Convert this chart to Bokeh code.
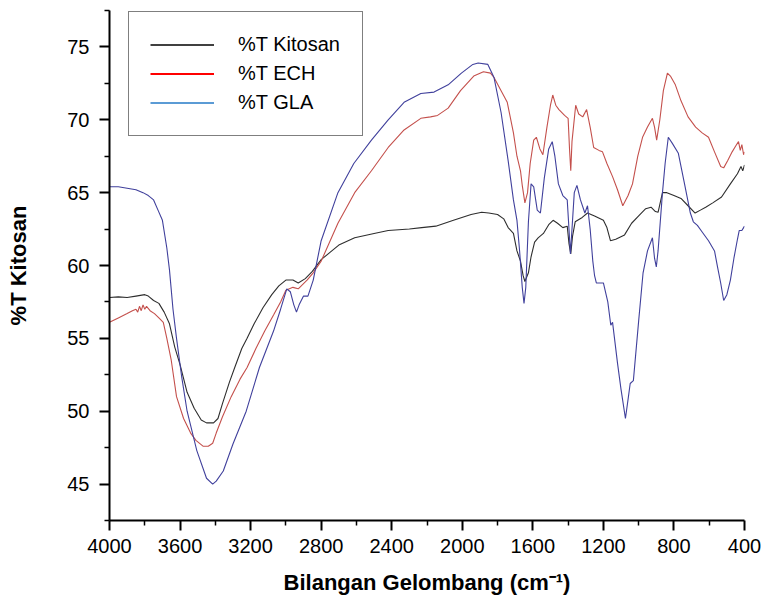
from bokeh.plotting import figure
from bokeh.models import Range1d, FixedTicker, Legend, LegendItem, ColumnDataSource
from bokeh.embed import file_html
from bokeh.resources import INLINE

# ---- data ----
kit_x = [4000, 3950, 3900, 3850, 3800, 3780, 3750, 3720, 3690, 3660, 3630, 3600, 3560, 3520, 3480,
         3450, 3410, 3385, 3360, 3320, 3290, 3250, 3220, 3180, 3130, 3080, 3040, 3000, 2960, 2930,
         2890, 2850, 2800, 2750, 2700, 2610, 2500, 2420, 2300, 2230, 2150, 2050, 1950, 1890, 1850,
         1800, 1765, 1740, 1710, 1690, 1670, 1655, 1645, 1625, 1610, 1590, 1570, 1540, 1510, 1485,
         1460, 1430, 1405, 1395, 1385, 1375, 1360, 1320, 1290, 1250, 1200, 1180, 1160, 1130, 1080,
         1040, 1000, 960, 930, 905, 890, 865, 840, 800, 760, 720, 680, 650, 620, 580, 530, 480, 440,
         420, 410, 400]
kit_y = [57.8, 57.85, 57.8, 57.9, 58.0, 57.9, 57.6, 57.4, 56.8, 56.0, 54.4, 53.2, 51.3, 50.2, 49.4,
         49.2, 49.2, 49.5, 50.5, 52.0, 53.0, 54.3, 55.0, 56.0, 57.1, 58.0, 58.6, 59.0, 59.0, 58.8,
         59.1, 59.6, 60.4, 60.9, 61.4, 61.9, 62.2, 62.4, 62.5, 62.6, 62.7, 63.1, 63.5, 63.65, 63.6,
         63.5, 63.2, 62.6, 62.2, 61.0, 60.3, 59.3, 58.9, 59.5, 60.6, 61.6, 61.9, 62.2, 62.8, 63.1,
         62.9, 62.6, 62.7, 61.5, 60.8, 62.0, 63.0, 63.3, 63.6, 63.4, 63.1, 62.6, 61.7, 61.8, 62.1,
         62.9, 63.4, 63.9, 64.0, 63.7, 63.65, 65.0, 65.0, 64.8, 64.6, 64.1, 63.6, 63.8, 64.0, 64.3,
         64.7, 65.6, 66.3, 66.8, 66.5, 66.9]

ech_x = [4000, 3950, 3900, 3870, 3850, 3840, 3830, 3820, 3810, 3800, 3790, 3770, 3745, 3720, 3695,
         3675, 3650, 3620, 3580, 3540, 3510, 3470, 3440, 3415, 3395, 3360, 3310, 3260, 3220, 3170,
         3120, 3070, 3030, 3000, 2960, 2930, 2880, 2845, 2800, 2705, 2610, 2515, 2420, 2330, 2235,
         2180, 2140, 2080, 2010, 1935, 1880, 1840, 1820, 1780, 1745, 1710, 1690, 1670, 1660, 1645,
         1630, 1615, 1595, 1580, 1560, 1543, 1520, 1500, 1487, 1470, 1452, 1420, 1400, 1392, 1385,
         1378, 1357, 1340, 1317, 1295, 1275, 1255, 1225, 1205, 1180, 1148, 1120, 1090, 1060, 1035,
         1005, 978, 950, 922, 910, 898, 880, 860, 837, 820, 792, 760, 720, 677, 640, 604, 570, 535,
         518, 495, 470, 450, 434, 424, 415, 405, 400]
ech_y = [56.1, 56.4, 56.7, 56.9, 57.0, 56.8, 57.2, 56.9, 57.3, 57.0, 57.2, 56.9, 56.7, 56.4, 56.1,
         55.0, 53.5, 51.0, 49.5, 48.5, 48.0, 47.6, 47.6, 47.8, 48.5, 49.6, 51.0, 52.2, 53.0, 54.3,
         55.5, 56.6, 57.5, 58.3, 58.5, 58.4, 59.0, 59.5, 60.3, 62.9, 65.0, 66.5, 68.1, 69.3, 70.1,
         70.2, 70.3, 70.8, 72.0, 73.0, 73.3, 73.2, 72.9, 72.0, 71.2, 69.1, 67.5, 66.5, 65.5, 64.3,
         65.0, 67.0, 68.6, 68.8, 68.0, 67.6, 69.5, 71.0, 71.7, 71.0, 70.7, 70.3, 70.1, 68.0, 66.5,
         68.5, 71.0, 70.4, 70.2, 70.7, 69.5, 68.1, 67.9, 67.8, 67.0, 66.1, 65.2, 64.1, 64.8, 65.6,
         67.5, 68.8, 69.5, 70.1, 69.5, 68.6, 70.0, 72.0, 73.2, 73.0, 72.4, 71.3, 70.2, 69.5, 69.1,
         68.8, 67.8, 66.8, 66.7, 67.2, 67.8, 68.2, 68.5, 67.9, 68.3, 67.6, 67.8]

gla_x = [4000, 3950, 3900, 3850, 3810, 3780, 3750, 3725, 3700, 3675, 3660, 3640, 3620, 3590, 3560,
         3505, 3450, 3415, 3395, 3355, 3300, 3225, 3150, 3070, 3030, 2995, 2975, 2955, 2940, 2925,
         2900, 2875, 2845, 2800, 2705, 2615, 2515, 2420, 2330, 2235, 2160, 2080, 2005, 1940, 1910,
         1855, 1820, 1780, 1740, 1710, 1690, 1675, 1660, 1650, 1640, 1625, 1610, 1595, 1575, 1557,
         1535, 1510, 1490, 1475, 1455, 1430, 1405, 1395, 1387, 1378, 1365, 1350, 1330, 1305, 1290,
         1275, 1260, 1250, 1240, 1200, 1175, 1158, 1148, 1120, 1100, 1075, 1058, 1048, 1030, 1000,
         975, 950, 922, 910, 900, 890, 865, 850, 832, 810, 775, 740, 707, 690, 667, 640, 604, 570,
         553, 535, 518, 500, 480, 460, 440, 430, 415, 405, 400]
gla_y = [65.4, 65.4, 65.3, 65.2, 65.0, 64.8, 64.5, 63.8, 63.1, 61.2, 59.7, 57.0, 55.0, 52.3, 50.0,
         47.3, 45.4, 45.0, 45.2, 45.9, 47.75, 50.0, 53.0, 55.5, 57.0, 58.4, 58.2, 57.3, 56.8, 57.3,
         57.9, 57.9, 59.0, 61.7, 65.0, 67.0, 68.6, 70.0, 71.2, 71.8, 71.9, 72.4, 73.2, 73.8, 73.9,
         73.8, 72.9, 70.5, 67.2, 64.5, 63.1, 61.0, 58.5, 57.4, 58.5, 63.0, 65.6, 65.4, 63.8, 63.6,
         66.0, 68.0, 68.5, 67.5, 65.6, 64.8, 64.5, 62.5, 60.8, 62.5, 65.0, 65.5, 64.5, 63.6, 64.1,
         62.5, 60.3, 59.3, 58.8, 58.8, 57.5, 55.9, 56.1, 53.3, 51.5, 49.5, 51.0, 51.9, 52.1, 56.2,
         59.5, 61.0, 61.9, 60.5, 59.9, 61.0, 65.0, 67.0, 68.8, 68.4, 67.7, 65.6, 63.6, 63.0, 62.75,
         62.3, 61.7, 61.0, 59.9, 58.8, 57.6, 58.0, 59.0, 60.5, 61.8, 62.4, 62.4, 62.6, 62.7]

series_names = ["%T Kitosan", "%T ECH", "%T GLA"]
x_ticks = [4000, 3600, 3200, 2800, 2400, 2000, 1600, 1200, 800, 400]
y_ticks = [45, 50, 55, 60, 65, 70, 75]

FONT = "Liberation Sans"

p = figure(width=763, height=601, output_backend="svg", toolbar_location=None,
           x_range=Range1d(4000, 400), y_range=Range1d(42.5, 77.5),
           min_border_left=109, min_border_right=19, min_border_top=10, min_border_bottom=81)
p.outline_line_color = None
p.xgrid.visible = False
p.ygrid.visible = False
p.background_fill_color = "white"

p.line(kit_x, kit_y, line_color="#2e2e2e", line_width=1.1)
p.line(ech_x, ech_y, line_color="#c4504c", line_width=1.1)
p.line(gla_x, gla_y, line_color="#40409c", line_width=1.1)

# legend swatches (renderers with no visible points)
nan = float("nan")
swatch = dict(x=[4000], y=[nan])
r1 = p.line("x", "y", source=ColumnDataSource(swatch), line_color="black", line_width=1.6)
r2 = p.line("x", "y", source=ColumnDataSource(swatch), line_color="#ff0000", line_width=2)
r3 = p.line("x", "y", source=ColumnDataSource(swatch), line_color="#5b9bd5", line_width=2)

legend = Legend(items=[LegendItem(label=series_names[0], renderers=[r1]),
                       LegendItem(label=series_names[1], renderers=[r2]),
                       LegendItem(label=series_names[2], renderers=[r3])],
                location=(19, 384), orientation="vertical",
                border_line_color="black", border_line_width=1.5,
                background_fill_color="white", background_fill_alpha=1.0,
                label_text_font=FONT, label_text_font_size="20px", label_text_color="black",
                glyph_width=64, glyph_height=23, label_standoff=24, label_width=103,
                padding=21, spacing=6, margin=0)
p.add_layout(legend)

xa = p.xaxis[0]
xa.ticker = FixedTicker(ticks=x_ticks, minor_ticks=[t - 200 for t in x_ticks[:-1]])
ya = p.yaxis[0]
ya.ticker = FixedTicker(ticks=y_ticks, minor_ticks=[42.5] + [t + 2.5 for t in y_ticks])

for ax in (xa, ya):
    ax.axis_line_color = "black"
    ax.axis_line_width = 2
    ax.major_tick_line_color = "black"
    ax.major_tick_line_width = 2
    ax.major_tick_in = 0
    ax.major_tick_out = 10
    ax.minor_tick_line_color = "black"
    ax.minor_tick_line_width = 1.5
    ax.minor_tick_in = 0
    ax.minor_tick_out = 5
    ax.major_label_text_font = FONT
    ax.major_label_text_font_size = "20px"
    ax.major_label_text_color = "black"
    ax.axis_label_text_font = FONT
    ax.axis_label_text_font_size = "22px"
    ax.axis_label_text_font_style = "bold"
    ax.axis_label_text_color = "black"

xa.axis_label = "Bilangan Gelombang (cm\u207b\u00b9)"
xa.major_label_standoff = 8
xa.axis_label_standoff = 14
ya.axis_label = "%T Kitosan"
ya.major_label_standoff = 10
ya.axis_label_standoff = 33

open("out.html", "w").write(file_html(p, INLINE))
